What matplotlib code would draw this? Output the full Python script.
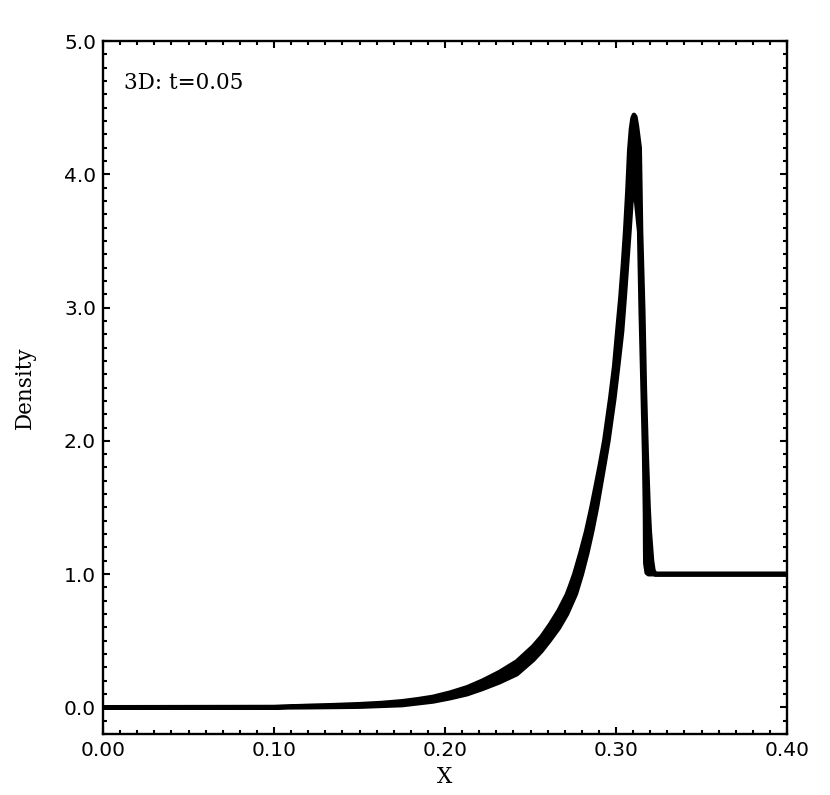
import numpy as np
import matplotlib
matplotlib.use("Agg")
import matplotlib.pyplot as plt
from matplotlib.ticker import MultipleLocator, FormatStrFormatter

# Upper/left envelope of the density scatter (rise, peak, right edge of fall, post-shock)
outer_x = [0.000, 0.100, 0.121, 0.135, 0.150, 0.163, 0.175, 0.184, 0.193, 0.203,
           0.213, 0.222, 0.232, 0.242, 0.2515, 0.2565, 0.2614, 0.2665, 0.2713,
           0.2735, 0.2757, 0.2793, 0.2826, 0.2857, 0.2882, 0.2905, 0.2932, 0.2967,
           0.2990, 0.3008, 0.3026, 0.3041, 0.3054, 0.3067, 0.3078, 0.3088, 0.3097,
           0.3105, 0.3113, 0.3122, 0.3138, 0.3142, 0.3146, 0.3159, 0.3168, 0.3179,
           0.3190, 0.3197, 0.3210, 0.3218, 0.3228, 0.400]
outer_rho = [0.000, 0.002, 0.011, 0.016, 0.023, 0.032, 0.045, 0.060, 0.078, 0.110,
             0.150, 0.200, 0.265, 0.344, 0.456, 0.530, 0.620, 0.725, 0.845,
             0.920, 1.000, 1.160, 1.320, 1.500, 1.660, 1.810, 2.000, 2.320,
             2.560, 2.820, 3.070, 3.320, 3.570, 3.870, 4.180, 4.340, 4.420,
             4.445, 4.430, 4.360, 4.200, 3.900, 3.570, 2.970, 2.400, 1.900,
             1.500, 1.320, 1.100, 1.030, 1.000, 1.000]

# Lower/right envelope (right edge of rise, left edge of fall)
inner_x = [0.000, 0.100, 0.121, 0.150, 0.175, 0.193, 0.203, 0.213, 0.222, 0.232,
           0.242, 0.2515, 0.2565, 0.2614, 0.2665, 0.2713, 0.2765, 0.2800, 0.2832,
           0.2860, 0.2888, 0.2930, 0.2955, 0.2990, 0.3013, 0.3035, 0.3050, 0.3064,
           0.3078, 0.3089, 0.3103, 0.3118, 0.3136, 0.3145, 0.3155, 0.3165, 0.3170,
           0.3171, 0.3172, 0.3180, 0.3190, 0.400]
inner_rho = [0.000, 0.000, 0.002, 0.006, 0.018, 0.045, 0.070, 0.100, 0.140, 0.190,
             0.250, 0.356, 0.425, 0.506, 0.595, 0.701, 0.852, 1.000, 1.160,
             1.320, 1.500, 1.810, 2.000, 2.320, 2.570, 2.820, 3.070, 3.320,
             3.570, 3.780, 3.950, 3.800, 3.570, 2.970, 2.450, 1.900, 1.450,
             1.200, 1.080, 1.010, 1.000, 1.000]

x_ticks = [0.0, 0.1, 0.2, 0.3, 0.4]
y_ticks = [0.0, 1.0, 2.0, 3.0, 4.0, 5.0]
label_text = "3D: t=0.05"

fig = plt.figure(figsize=(8.3, 7.95), dpi=100)
ax = fig.add_axes([0.1241, 0.0767, 0.9482 - 0.1241, 0.9484 - 0.0767])

poly_x = np.r_[outer_x, inner_x[::-1]]
poly_y = np.r_[outer_rho, inner_rho[::-1]]
ax.fill(poly_x, poly_y, facecolor="black", edgecolor="black", linewidth=3.4,
        joinstyle="round")

ax.set_xlim(0.0, 0.4)
ax.set_ylim(-0.2, 5.0)
ax.set_xticks(x_ticks)
ax.set_yticks(y_ticks)
ax.xaxis.set_major_formatter(FormatStrFormatter("%.2f"))
ax.yaxis.set_major_formatter(FormatStrFormatter("%.1f"))
ax.xaxis.set_minor_locator(MultipleLocator(0.01))
ax.yaxis.set_minor_locator(MultipleLocator(0.1))
ax.tick_params(which="both", direction="in", top=True, right=True, width=1.5,
               labelsize=14.5, colors="black")
ax.tick_params(which="major", length=5.2, pad=5)
ax.tick_params(which="minor", length=2.6)
for lab in ax.get_xticklabels() + ax.get_yticklabels():
    lab.set_family("DejaVu Sans")
for sp in ax.spines.values():
    sp.set_linewidth(1.7)

ax.set_xlabel("X", family="DejaVu Serif", fontsize=15.5, labelpad=4)
ax.set_ylabel("Density", family="DejaVu Serif", fontsize=15.5, labelpad=20)
ax.text(0.03, 0.94, label_text, transform=ax.transAxes, family="DejaVu Serif",
        fontsize=15.5, ha="left", va="center")

fig.savefig("out.png", dpi=100)
